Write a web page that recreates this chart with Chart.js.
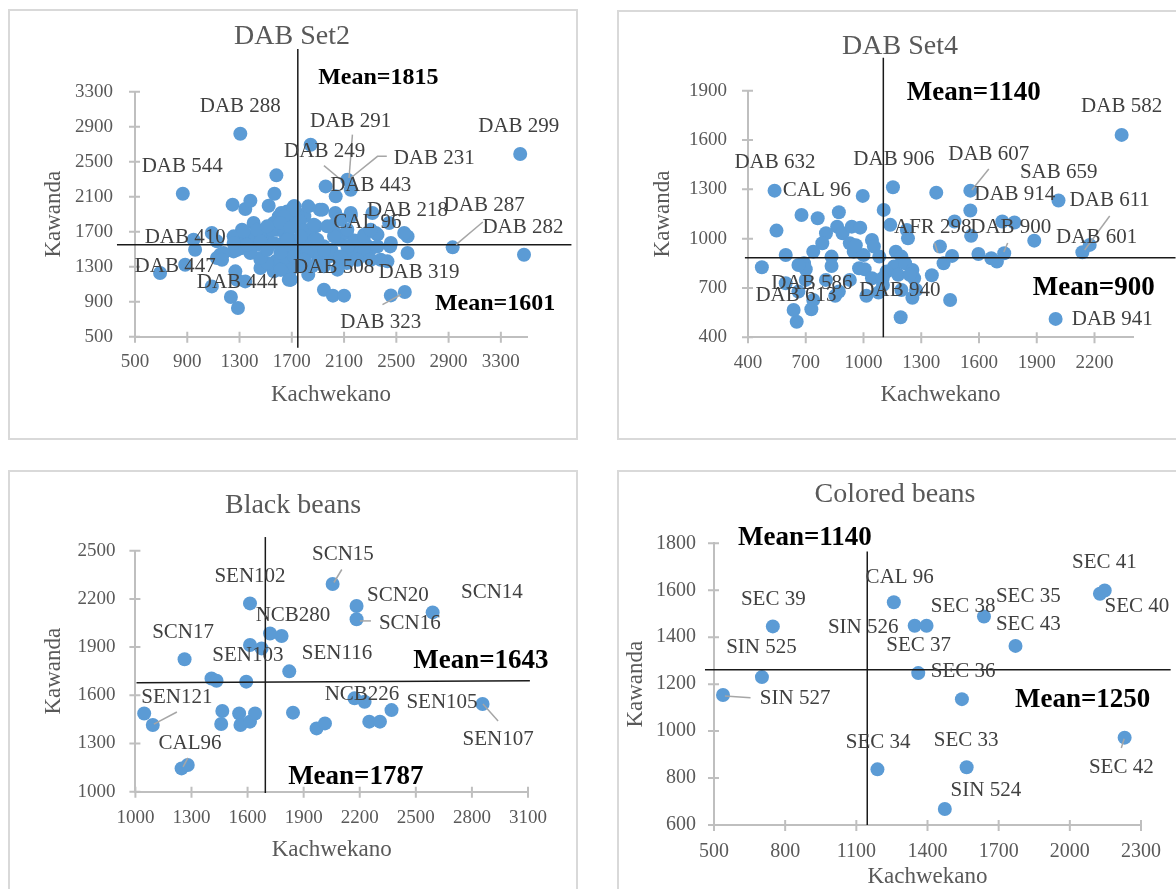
<!DOCTYPE html>
<html>
<head>
<meta charset="utf-8">
<script src="https://cdn.jsdelivr.net/npm/chart.js@4.4.1/dist/chart.umd.min.js"></script>
<style>
  body { margin: 0; background: #fff; width: 1176px; height: 889px; overflow: hidden; position: relative; }
  .panel { position: absolute; border: 2px solid #d9d9d9; box-sizing: border-box; }
  canvas { position: absolute; left: 0; top: 0; }
</style>
</head>
<body>
<div class="panel" style="left:8px;top:9px;width:570px;height:431px"></div>
<div class="panel" style="left:617px;top:10px;width:600px;height:430px"></div>
<div class="panel" style="left:8px;top:470px;width:570px;height:450px"></div>
<div class="panel" style="left:617px;top:470px;width:600px;height:450px"></div>
<canvas id="set2" width="1176" height="960"></canvas>
<canvas id="set4" width="1176" height="960"></canvas>
<canvas id="black" width="1176" height="960"></canvas>
<canvas id="colored" width="1176" height="960"></canvas>
<script>
// ---- DAB Set2 ----
let set2X = [1306, 3448, 3477, 2931, 866, 692, 1844, 2458, 2565, 1946, 2015, 2100, 1959, 2036, 2125, 2151,
  2317, 2445, 2356, 2586, 2586, 2453, 2432, 2381, 2560, 1582, 1567, 1247, 1344, 1383, 1523, 1408, 1319,
  1255, 1344, 1396, 1088, 1127, 948, 960, 884, 1088, 1127, 1152, 1280, 1268, 1344, 1234, 1288, 1460,
  1460, 1575, 1562, 1677, 1690, 1255, 1319, 1434, 1536, 1498, 1562, 1600, 1664, 1715, 1613, 1511, 1460,
  1626, 1690, 1715, 1702, 1737, 1796, 1826, 1914, 1885, 1826, 1944, 1900, 1855, 1826, 1767, 1782, 1870,
  2003, 2033, 2062, 2121, 2136, 2210, 2254, 2313, 2062, 1988, 2033, 2077, 2151, 2269, 1929, 2003, 2121,
  1619, 1663, 1648, 1590, 1708, 1634, 1693, 1648, 1693, 1693, 1619, 1545, 1737, 1722, 1420, 1480, 1380,
  2180, 2230, 1860, 1780, 1760, 1800, 1790,
  1716, 1639, 1933, 1869, 2049, 2125, 2253, 2343, 2356, 2253, 2125, 1946, 1895, 1818, 1844, 1690, 1613,
  1511, 1460, 1383, 1281, 1178, 1166, 1332, 1434, 1511, 1613, 1690, 1767, 1665, 1562, 1460, 1357, 1255,
  1511, 1613, 1716, 1792, 2023, 2074, 2202, 2304, 2151, 2304, 1972, 1946, 2049, 2458];
let set2Y = [2820, 2588, 1437, 1521, 2134, 1228, 2694, 972, 1011, 1037, 969, 969, 2218, 2104, 2295, 2180,
  1914, 1800, 1666, 1646, 1457, 1532, 1361, 1380, 1685, 2344, 2134, 2009, 1959, 2054, 1997, 1799, 1723,
  1647, 1590, 1647, 1685, 1590, 1609, 1494, 1323, 1075, 1399, 1437, 1151, 1247, 1132, 953, 828, 1380,
  1285, 1361, 1247, 1151, 1273, 1475, 1513, 1551, 1570, 1723, 1799, 1875, 1932, 1990, 1742, 1628, 1685,
  1532, 1609, 1456, 1380, 1914, 1876, 1990, 1952, 1761, 1685, 1533, 1418, 1304, 1209, 1304, 1571, 1609,
  1761, 1685, 1609, 1685, 1456, 1533, 1666, 1514, 1380, 1418, 1914, 1837, 1876, 1552, 1380, 1495, 1342,
  1914, 1837, 1685, 1723, 1761, 1571, 1533, 1342, 1266, 1152, 1266, 1723, 1456, 1990, 1620, 1560, 1480,
  1600, 1480, 1480, 1400, 1820, 1720, 1480,
  1952, 1875, 1952, 1780, 1837, 1723, 1647, 1685, 1532, 1475, 1532, 1494, 1609, 1457, 1304, 1152, 1266,
  1342, 1400, 1457, 1494, 1457, 1380, 1704, 1723, 1761, 1799, 1742, 1647, 1609, 1571, 1589, 1551, 1571,
  1494, 1457, 1418, 1380, 1647, 1418, 1380, 1380, 1914, 1723, 1761, 1304, 1266, 1571];
let set2XTicks = [500, 900, 1300, 1700, 2100, 2500, 2900, 3300];
let set2YTicks = [500, 900, 1300, 1700, 2100, 2500, 2900, 3300];
let set2Labels = [
  ['DAB 288', 1306, 3129], ['DAB 544', 861, 2443], ['DAB 291', 2150, 2957], ['DAB 249', 1951, 2615],
  ['DAB 231', 2790, 2540], ['DAB 443', 2304, 2226], ['DAB 218', 2586, 1944], ['CAL 96', 2279, 1803],
  ['DAB 287', 3172, 2001], ['DAB 282', 3469, 1746], ['DAB 410', 884, 1632], ['DAB 447', 807, 1300],
  ['DAB 444', 1283, 1117], ['DAB 508', 2020, 1289], ['DAB 319', 2673, 1232], ['DAB 323', 2381, 663],
  ['DAB 299', 3437, 2904]
];
let set2Leaders = [
  [2164, 2809, 2138, 2314], [1946, 2455, 2069, 2302], [2427, 2561, 2356, 2561, 2151, 2314],
  [3162, 1811, 2957, 1552], [2394, 866, 2535, 980]
];
let set2Means = [[1746, 3788, 1746, 374], [362, 1550, 3840, 1550]];
let set2MeanText = [['Mean=1815', 2362, 3457], ['Mean=1601', 3256, 877]];

// ---- DAB Set4 ----
let set4X = [2341, 538, 548, 1153, 996, 1105, 1378, 1555, 1555, 2013, 678, 762, 872, 863, 891, 805, 786,
  739, 691, 700, 596, 472, 834, 834, 939, 983, 929, 949, 1044, 1054, 1082, 977, 1006, 1044, 1139, 1225,
  1231, 1168, 1197, 1158, 1216, 1254, 1263, 1273, 1254, 1197, 1193, 1355, 1397, 1416, 1460, 1473, 1450,
  1559, 1597, 1664, 1693, 1721, 1784, 1731, 1887, 2137, 2175, 1998, 653, 637, 729, 739, 853, 872, 805,
  662, 596, 1015, 1078, 1101, 929, 700, 662, 1120, 1180, 1240, 1100, 1000, 960];
let set4Y = [1631, 1292, 1049, 1313, 1260, 1175, 1280, 1292, 1171, 1232, 1144, 1124, 1161, 1073, 1033,
  1033, 972, 921, 850, 814, 901, 826, 891, 834, 1073, 1067, 972, 921, 992, 952, 891, 820, 814, 759, 1084,
  1053, 1002, 921, 891, 830, 850, 810, 759, 688, 641, 688, 522, 777, 952, 850, 895, 1104, 627, 1017, 907,
  881, 861, 1104, 1098, 911, 988, 917, 962, 512, 495, 566, 571, 627, 652, 678, 749, 678, 729, 652, 672,
  718, 749, 749, 840, 800, 780, 780, 760, 900, 960];
let set4XTicks = [400, 700, 1000, 1300, 1600, 1900, 2200];
let set4YTicks = [400, 700, 1000, 1300, 1600, 1900];
let set4Labels = [
  ['DAB 582', 2341, 1801], ['DAB 632', 540, 1461], ['CAL 96', 758, 1290], ['DAB 906', 1158, 1479],
  ['DAB 607', 1651, 1509], ['SAB 659', 2014, 1400], ['DAB 914', 1786, 1266], ['DAB 611', 2279, 1235],
  ['AFR 298', 1360, 1071], ['DAB 900', 1765, 1071], ['DAB 601', 2211, 1010], ['DAB 586', 732, 730],
  ['DAB 613', 649, 657], ['DAB 940', 1189, 682], ['DAB 941', 2082, 511, 'left']
];
let set4Leaders = [
  [1651, 1424, 1563, 1296], [1370, 974, 1386, 913], [1749, 974, 1729, 919], [2279, 1138, 2149, 931]
];
let set4Means = [[1103, 2100, 1103, 400], [384, 884, 2621, 884]];
let set4MeanText = [['Mean=1140', 1573, 1886], ['Mean=900', 2196, 700]];

// ---- Black beans ----
let blackX = [2055, 1613, 2183, 2183, 2590, 1720, 1782, 1613, 1675, 1263, 1823, 1407, 1434, 1593, 1047,
  1093, 1465, 1459, 1555, 1562, 1613, 1640, 1843, 1969, 2014, 2172, 2226, 2251, 2308, 2370, 2857, 1247, 1280];
let blackY = [2293, 2172, 2156, 2073, 2116, 1985, 1969, 1913, 1892, 1824, 1749, 1705, 1691, 1685, 1487,
  1415, 1502, 1421, 1487, 1415, 1436, 1487, 1492, 1394, 1425, 1581, 1560, 1436, 1436, 1508, 1546, 1145, 1166];
let blackXTicks = [1000, 1300, 1600, 1900, 2200, 2500, 2800, 3100];
let blackYTicks = [1000, 1300, 1600, 1900, 2200, 2500];
let blackLabels = [
  ['SCN15', 2110, 2474], ['SEN102', 1613, 2342], ['SCN20', 2404, 2224], ['SCN14', 2907, 2237],
  ['NCB280', 1843, 2094], ['SCN16', 2468, 2050], ['SCN17', 1255, 1994], ['SEN103', 1602, 1845],
  ['SEN116', 2078, 1863], ['SEN121', 1222, 1589], ['NCB226', 2212, 1602], ['SEN105', 2640, 1558],
  ['SEN107', 2940, 1328], ['CAL96', 1292, 1303]
];
let blackLeaders = [
  [2104, 2383, 2062, 2302], [2201, 2063, 2260, 2063], [1222, 1496, 1099, 1421],
  [2859, 1546, 2940, 1440], [1281, 1210, 1255, 1154]
];
let blackMeans = [[1695, 2585, 1695, 992], [1006, 1678, 3110, 1691]];
let blackMeanText = [['Mean=1643', 2848, 1814], ['Mean=1787', 2179, 1091]];

// ---- Colored beans ----
let coloredX = [538, 702, 748, 1258, 1346, 1396, 1361, 1638, 1771, 1545, 2127, 2147, 2231, 1189, 1565, 1473];
let coloredY = [1154, 1230, 1446, 1549, 1449, 1449, 1247, 1488, 1363, 1136, 1585, 1599, 972, 837, 846, 668];
let coloredXTicks = [500, 800, 1100, 1400, 1700, 2000, 2300];
let coloredYTicks = [600, 800, 1000, 1200, 1400, 1600, 1800];
let coloredLabels = [
  ['SEC 41', 2146, 1717], ['SEC 40', 2146, 1530, 'left'], ['CAL 96', 1283, 1653], ['SEC 39', 750, 1559],
  ['SEC 38', 1550, 1530], ['SEC 35', 1825, 1572], ['SIN 526', 1129, 1440], ['SEC 43', 1825, 1453],
  ['SEC 37', 1363, 1363], ['SIN 525', 700, 1355], ['SEC 36', 1550, 1252], ['SIN 527', 842, 1137],
  ['SEC 34', 1192, 950], ['SEC 33', 1563, 958], ['SEC 42', 2217, 847], ['SIN 524', 1646, 749]
];
let coloredLeaders = [[546, 1150, 654, 1142], [2229, 967, 2217, 928]];
let coloredMeans = [[1146, 1765, 1146, 600], [462, 1261, 2425, 1261]];
let coloredMeanText = [['Mean=1140', 883, 1824], ['Mean=1250', 2054, 1133]];

Chart.defaults.font.family = '"Liberation Serif", "Times New Roman", serif';
Chart.defaults.color = '#595959';

const notesPlugin = {
  id: 'notes',
  afterDraw(chart, args, o) {
    const ctx = chart.ctx;
    const xs = chart.scales.x, ys = chart.scales.y;
    const area = chart.chartArea;
    const X = v => xs.getPixelForValue(v);
    const Y = v => ys.getPixelForValue(v);
    ctx.save();
    // tick marks crossing the axes
    ctx.strokeStyle = '#bfbfbf';
    ctx.lineWidth = 2;
    ctx.beginPath();
    xs.ticks.forEach(t => { let p = X(t.value); ctx.moveTo(p, area.bottom - 5); ctx.lineTo(p, area.bottom + 6); });
    ys.ticks.forEach(t => { let p = Y(t.value); ctx.moveTo(area.left - 6, p); ctx.lineTo(area.left + 5, p); });
    ctx.stroke();
    // mean lines
    ctx.strokeStyle = '#1a1a1a';
    ctx.lineWidth = 1.5;
    o.means.forEach(m => {
      ctx.beginPath();
      ctx.moveTo(X(m[0]), Y(m[1]));
      ctx.lineTo(X(m[2]), Y(m[3]));
      ctx.stroke();
    });
    // leader lines
    ctx.strokeStyle = '#a6a6a6';
    ctx.lineWidth = 1.5;
    o.leaders.forEach(l => {
      ctx.beginPath();
      ctx.moveTo(X(l[0]), Y(l[1]));
      for (let i = 2; i < l.length; i += 2) ctx.lineTo(X(l[i]), Y(l[i + 1]));
      ctx.stroke();
    });
    // data labels
    ctx.font = '21px "Liberation Serif"';
    ctx.fillStyle = '#404040';
    ctx.textBaseline = 'middle';
    o.labels.forEach(l => {
      ctx.textAlign = l[3] || 'center';
      ctx.fillText(l[0], X(l[1]), Y(l[2]));
    });
    // mean captions
    ctx.font = 'bold ' + o.meanSize + 'px "Liberation Serif"';
    ctx.fillStyle = '#000';
    ctx.textAlign = 'center';
    o.meanText.forEach(m => ctx.fillText(m[0], X(m[1]), Y(m[2])));
    // title
    ctx.font = '28px "Liberation Serif"';
    ctx.fillStyle = '#595959';
    ctx.fillText(o.title[0], o.title[1], o.title[2]);
    ctx.restore();
  }
};

function makeChart(id, xv, yv, xTicks, yTicks, box, notes) {
  let data = xv.map((x, i) => ({ x: x, y: yv[i] }));
  let w = 1176, h = 960;
  new Chart(document.getElementById(id), {
    type: 'scatter',
    data: {
      datasets: [{
        data: data,
        backgroundColor: '#5B9BD5',
        borderWidth: 0,
        pointRadius: 7,
        clip: false
      }]
    },
    options: {
      responsive: false,
      animation: false,
      events: [],
      layout: {
        padding: { left: box.left - 100, top: box.top, right: w - box.right, bottom: h - box.bottom - 75 }
      },
      plugins: { legend: { display: false }, tooltip: { enabled: false }, notes: notes },
      scales: {
        x: {
          type: 'linear', min: box.xmin, max: box.xmax,
          afterBuildTicks: s => { s.ticks = xTicks.map(v => ({ value: v })); },
          afterFit: s => { s.height = 75; },
          grid: { display: false, drawTicks: false },
          border: { color: '#bfbfbf', width: 2 },
          ticks: { padding: box.xpad, font: { size: box.tick }, color: '#595959', callback: v => String(v) },
          title: { display: true, text: 'Kachwekano', font: { size: 23 }, color: '#595959', padding: { top: 0, bottom: box.xtp } }
        },
        y: {
          type: 'linear', min: box.ymin, max: box.ymax,
          afterBuildTicks: s => { s.ticks = yTicks.map(v => ({ value: v })); },
          afterFit: s => { s.width = 100; },
          grid: { display: false, drawTicks: false },
          border: { color: '#bfbfbf', width: 2 },
          ticks: { padding: box.ypad, font: { size: box.tick }, color: '#595959', callback: v => String(v) },
          title: { display: true, text: 'Kawanda', font: { size: 23 }, color: '#595959', padding: { top: box.ytp, bottom: 0 } }
        }
      }
    },
    plugins: [notesPlugin]
  });
}

makeChart('set2', set2X, set2Y, set2XTicks, set2YTicks,
  { left: 135, right: 527, top: 91.7, bottom: 336.7, xmin: 500, xmax: 3500, ymin: 500, ymax: 3300,
    xpad: 14, ypad: 22, tick: 19, xtp: 3.2, ytp: 5.2 },
  { means: set2Means, leaders: set2Leaders, labels: set2Labels, meanText: set2MeanText, meanSize: 24,
    title: ['DAB Set2', 292, 37] });

makeChart('set4', set4X, set4Y, set4XTicks, set4YTicks,
  { left: 748, right: 1133, top: 90.7, bottom: 337.3, xmin: 400, xmax: 2400, ymin: 400, ymax: 1900,
    xpad: 14, ypad: 21, tick: 19, xtp: 3.2, ytp: 1.2 },
  { means: set4Means, leaders: set4Leaders, labels: set4Labels, meanText: set4MeanText, meanSize: 27,
    title: ['DAB Set4', 900, 47] });

makeChart('black', blackX, blackY, blackXTicks, blackYTicks,
  { left: 135.4, right: 528, top: 550.7, bottom: 791.7, xmin: 1000, xmax: 3100, ymin: 1000, ymax: 2500,
    xpad: 15, ypad: 20, tick: 19, xtp: 2.9, ytp: 5.2 },
  { means: blackMeans, leaders: blackLeaders, labels: blackLabels, meanText: blackMeanText, meanSize: 27,
    title: ['Black beans', 293, 506] });

makeChart('colored', coloredX, coloredY, coloredXTicks, coloredYTicks,
  { left: 714, right: 1146, top: 543.3, bottom: 825, xmin: 500, xmax: 2300, ymin: 600, ymax: 1800,
    xpad: 15, ypad: 18, tick: 20, xtp: 9.2, ytp: 8.2 },
  { means: coloredMeans, leaders: coloredLeaders, labels: coloredLabels, meanText: coloredMeanText, meanSize: 27,
    title: ['Colored beans', 895, 495] });
</script>
</body>
</html>
